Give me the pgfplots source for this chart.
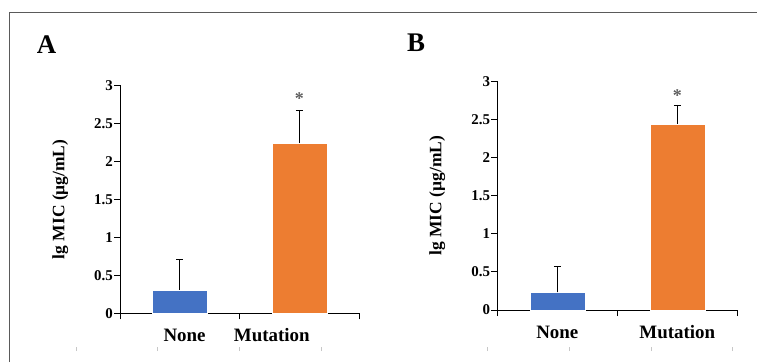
\documentclass[border=0pt]{standalone}
\usepackage{fontspec}
\setmainfont{Liberation Serif}
\usepackage{pgfplots}
\pgfplotsset{compat=1.18}
\definecolor{barblue}{HTML}{4472C4}
\definecolor{barorange}{HTML}{ED7D31}
\definecolor{framegray}{HTML}{5A5A5A}
\definecolor{stargray}{HTML}{5E5E5E}
\pgfplotsset{
  panel/.style={
    scale only axis,
    xmin=0, xmax=2, ymin=0, ymax=3,
    axis x line=bottom, axis y line=left,
    axis line style={-, line width=0.9bp, black},
    tick align=outside,
    major tick length=6bp,
    tick style={black, line width=0.9bp},
    ytick={0,0.5,1,1.5,2,2.5,3},
    /pgf/number format/assume math mode=true,
    yticklabel style={font=\fontsize{15}{15}\selectfont\bfseries, inner sep=1bp},
    xtick={0,1,2},
    xticklabels={},
    extra x tick style={major tick length=0bp, tick style={draw=none},
      xticklabel style={font=\fontsize{19}{19}\selectfont\bfseries, anchor=center, yshift=-22bp}},
    extra x tick labels={None,Mutation},
    ylabel={lg MIC (µg/mL)},
    ylabel style={font=\fontsize{17.5}{17.5}\selectfont\bfseries, at={(axis description cs:-0.25,0.5)}, anchor=center},
    clip=false,
  },
  barA/.style={ybar, bar width=55bp, bar shift=0pt, draw=white, line width=0.4bp, mark=none},
  errs/.style={error bars/.cd, y dir=plus, y explicit,
    error bar style={black, line width=0.8bp},
    error mark options={black, line width=0.8bp, mark size=3.5bp, rotate=90}},
}
\begin{document}
\begin{tikzpicture}[x=1bp,y=1bp]
\path[use as bounding box] (0,0) rectangle (757,362);
% frame
\draw[framegray, line width=1bp] (9,0) -- (9,349) -- (757,349);
% faint marks
\foreach \xx in {76,157.7,239,321,487,569,651,732}
  \draw[black!22, line width=0.7bp] (\xx,11) -- (\xx,15);
% panel letters
\node[font=\fontsize{27}{27}\selectfont\bfseries] at (46.5,317) {A};
\node[font=\fontsize{27}{27}\selectfont\bfseries] at (416,319) {B};

\begin{axis}[panel, at={(120bp,48.7bp)}, anchor=south west, width=239bp, height=228bp,
  extra x ticks={0.54,1.27}]
\addplot[barA, fill=barblue, errs] coordinates {(0.5,0.31) +- (0,0.40)};
\addplot[barA, fill=barorange, errs] coordinates {(1.5,2.24) +- (0,0.43)};
\node[text=stargray, font=\fontsize{18}{18}\selectfont\bfseries] at (axis cs:1.5,2.82) {*};
\end{axis}

\begin{axis}[panel, at={(497.3bp,52bp)}, anchor=south west, width=240bp, height=228.7bp,
  extra x ticks={0.5,1.5}]
\addplot[barA, fill=barblue, errs] coordinates {(0.5,0.23) +- (0,0.34)};
\addplot[barA, fill=barorange, errs] coordinates {(1.5,2.44) +- (0,0.25)};
\node[text=stargray, font=\fontsize{18}{18}\selectfont\bfseries] at (axis cs:1.5,2.81) {*};
\end{axis}
\end{tikzpicture}
\end{document}
